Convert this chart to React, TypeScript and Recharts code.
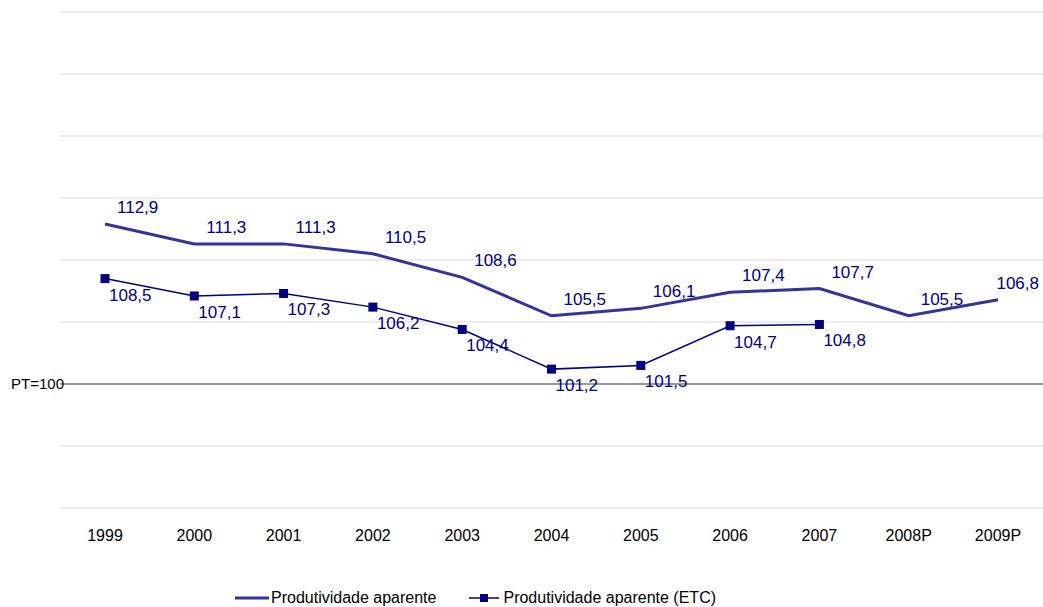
import React from 'react';
import {
  LineChart,
  Line,
  XAxis,
  YAxis,
  CartesianGrid,
  ReferenceLine,
  Legend,
} from 'recharts';

const years = ['1999', '2000', '2001', '2002', '2003', '2004', '2005', '2006', '2007', '2008P', '2009P'];
const produtividade = [112.9, 111.3, 111.3, 110.5, 108.6, 105.5, 106.1, 107.4, 107.7, 105.5, 106.8];
const produtividadeEtc = [108.5, 107.1, 107.3, 106.2, 104.4, 101.2, 101.5, 104.7, 104.8, null, null];
const yTicks = [90, 95, 100, 105, 110, 115, 120, 125, 130];

const data = years.map((year, i) => ({
  year,
  pa: produtividade[i],
  etc: produtividadeEtc[i],
}));

const W = 1043;
const H = 607;
const FONT = '"Liberation Sans", Arial, sans-serif';
const LINE1 = '#333399';
const LINE2 = '#000080';
const LABEL = '#000080';

const fmt = (v: number) => v.toFixed(1).replace('.', ',');

// keep labels inside the svg (the last one would be cut at the right edge)
const TopLabel = (props: any) => {
  const { x, y, value } = props;
  if (value == null) return null;
  const overflow = x + 12 + 44 > W - 4;
  return (
    <text
      x={overflow ? W - 4 : x + 12}
      y={y - 11}
      fill={LABEL}
      fontSize={17}
      fontFamily={FONT}
      textAnchor={overflow ? 'end' : 'start'}
    >
      {fmt(value)}
    </text>
  );
};

const BottomLabel = (props: any) => {
  const { x, y, value } = props;
  if (value == null) return null;
  return (
    <text x={x + 4} y={y + 22} fill={LABEL} fontSize={17} fontFamily={FONT} textAnchor="start">
      {fmt(value)}
    </text>
  );
};

const SquareDot = (props: any) => {
  const { cx, cy, value } = props;
  if (value == null || cx == null || cy == null) return null;
  return <rect x={cx - 4.5} y={cy - 4.5} width={9} height={9} fill={LINE2} />;
};

const PtLabel = (props: any) => {
  const { viewBox } = props;
  return (
    <text
      x={viewBox.x + 4}
      y={viewBox.y}
      dy={5}
      textAnchor="end"
      fill="#000"
      fontSize={15}
      fontFamily={FONT}
    >
      PT=100
    </text>
  );
};

const CustomLegend = () => (
  <div
    style={{
      display: 'flex',
      alignItems: 'center',
      marginLeft: 235,
      fontFamily: FONT,
      fontSize: 16,
      color: '#000',
    }}
  >
    <svg width={34} height={10}>
      <line x1={0} y1={5} x2={34} y2={5} stroke={LINE1} strokeWidth={3} />
    </svg>
    <span style={{ marginLeft: 2 }}>Produtividade aparente</span>
    <svg width={30} height={10} style={{ marginLeft: 33 }}>
      <line x1={0} y1={5} x2={30} y2={5} stroke={LINE2} strokeWidth={1.5} />
      <rect x={11} y={1} width={8} height={8} fill={LINE2} />
    </svg>
    <span style={{ marginLeft: 4 }}>Produtividade aparente (ETC)</span>
  </div>
);

export default function App() {
  return (
    <div style={{ position: 'absolute', left: 0, top: 0, background: '#fff' }}>
      <LineChart
        width={W}
        height={H}
        data={data}
        margin={{ top: 12, right: 0, left: 60, bottom: 59 }}
      >
        <CartesianGrid vertical={false} stroke="#d9d9d9" />
        <XAxis
          dataKey="year"
          axisLine={false}
          tickLine={false}
          height={40}
          tickMargin={16}
          padding={{ left: 45, right: 45 }}
          tick={{ fill: '#000', fontSize: 16, fontFamily: FONT }}
          interval={0}
        />
        <YAxis hide domain={[90, 130]} ticks={yTicks} />
        <ReferenceLine y={100} stroke="#808080" strokeWidth={1.5} label={<PtLabel />} />
        <Line
          type="linear"
          dataKey="pa"
          stroke={LINE1}
          strokeWidth={3}
          dot={false}
          activeDot={false}
          label={<TopLabel />}
          isAnimationActive={false}
        />
        <Line
          type="linear"
          dataKey="etc"
          stroke={LINE2}
          strokeWidth={1.5}
          dot={<SquareDot />}
          activeDot={false}
          label={<BottomLabel />}
          isAnimationActive={false}
        />
        <Legend
          verticalAlign="middle"
          layout="horizontal"
          align="center"
          wrapperStyle={{ top: 589, left: 0, width: W }}
          content={<CustomLegend />}
        />
      </LineChart>
    </div>
  );
}
